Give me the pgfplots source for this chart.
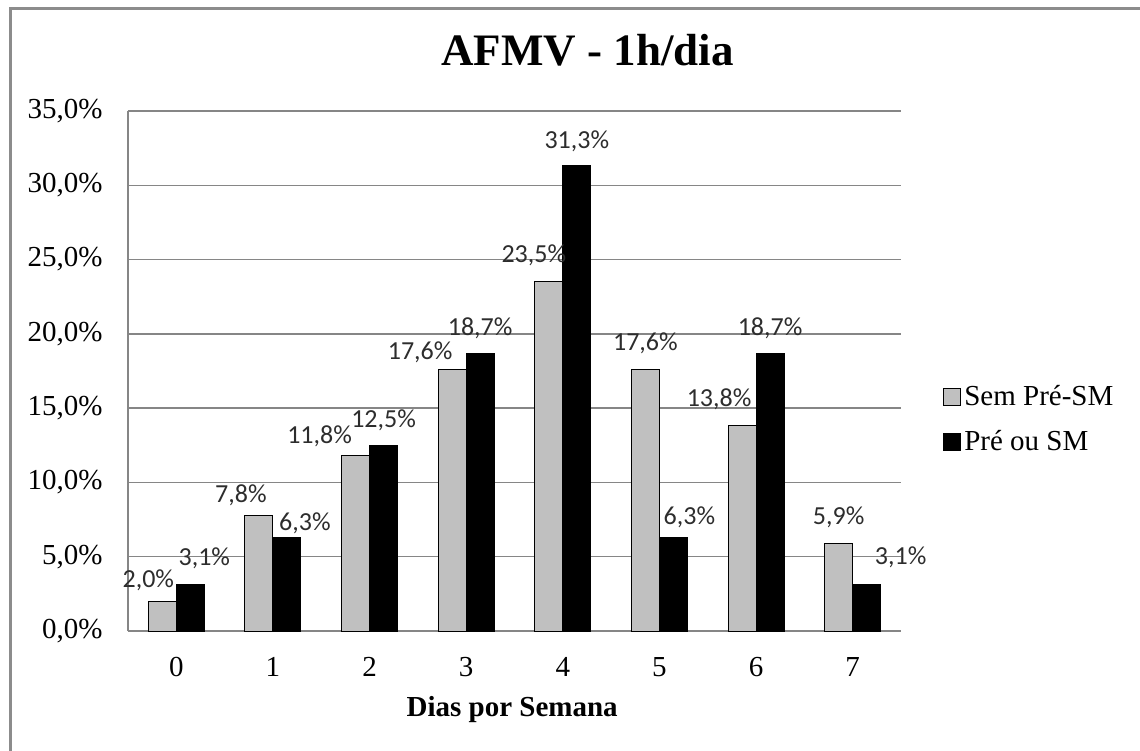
\documentclass[border=0pt]{standalone}
\usepackage{fontspec}
\setmainfont{Liberation Serif}
\newfontfamily\calib{Carlito}
\usepackage{pgfplots}
\pgfplotsset{compat=1.18}
\usepackage{pgfplotstable}

\pgfplotstableread{
x y dx dy
0 2.0 -14 21
1 7.8 -18 20
2 11.8 -36 19
3 17.6 -32 17
4 23.5 -15 27
5 17.6 0 26
6 13.8 -23 27
7 5.9 0 26
}\semtab

\pgfplotstableread{
x y dx dy
0 3.1 14 27
1 6.3 18 14
2 12.5 0 25
3 18.7 0 25
4 31.3 0 25
5 6.3 16 20
6 18.7 0 25
7 3.1 34 28
}\pretab

\definecolor{barGray}{RGB}{192,192,192}
\definecolor{gridGray}{RGB}{134,134,134}
\definecolor{frameGray}{RGB}{140,140,140}
\definecolor{lblGray}{RGB}{45,45,45}

\begin{document}
\begin{tikzpicture}
\useasboundingbox (0,0) rectangle (570bp,-375.5bp);
\draw[frameGray, line width=1.2bp] (5.25bp,-380bp) -- (5.25bp,-4.25bp) -- (575bp,-4.25bp);
\begin{axis}[
  at={(64bp,-315.5bp)}, anchor=south west,
  scale only axis, width=386.5bp, height=260bp,
  ymin=0, ymax=35, xmin=-0.5, xmax=7.5,
  ybar=0pt, bar width=14bp,
  axis lines=left,
  axis line style={draw=gridGray, line width=0.75bp, -},
  ymajorgrids, grid style={draw=gridGray, line width=0.75bp},
  major tick length=0pt,
  xtick={0,1,2,3,4,5,6,7},
  ytick={0,5,10,15,20,25,30,35},
  yticklabels={{0,0\%},{5,0\%},{10,0\%},{15,0\%},{20,0\%},{25,0\%},{30,0\%},{35,0\%}},
  tick label style={font=\fontsize{14.5bp}{17bp}\selectfont},
  xticklabel style={anchor=center, inner sep=0pt, yshift=-18bp},
  yticklabel style={anchor=east, inner sep=0pt, xshift=-12.5bp},
  /pgf/number format/assume math mode=true,
  title={\bfseries AFMV - 1h/dia},
  title style={at={(0.5944,1.064)}, anchor=base, inner sep=0pt, font=\fontsize{22.5bp}{26bp}\selectfont},
  xlabel={\bfseries Dias por Semana},
  xlabel style={at={(0.497,-0.1635)}, anchor=base, inner sep=0pt, font=\fontsize{14.5bp}{17bp}\selectfont},
  legend style={at={(1.0543,0.4067)}, anchor=west, draw=none, fill=none,
    font=\fontsize{14.5bp}{17bp}\selectfont, row sep=8bp, inner sep=0pt,
    nodes={inner sep=1.5bp}},
  legend cell align=left,
  legend image code/.code={\draw[#1, line width=0.5bp] (0bp,-4.25bp) rectangle (8.5bp,4.25bp);},
  nodes near coords={\calib\fontsize{13bp}{15bp}\selectfont\pgfmathprintnumber[fixed,fixed zerofill,precision=1,use comma]{\pgfplotspointmeta}\%},
  nodes near coords style={text=lblGray, anchor=center, inner sep=0pt,
    xshift={0.5bp*\dx}, yshift={0.5bp*\dy}},
  visualization depends on={\thisrow{dx} \as \dx},
  visualization depends on={\thisrow{dy} \as \dy},
]
\addplot[fill=barGray, draw=black, line width=0.5bp] table[x=x, y=y] {\semtab};
\addlegendentry{Sem Pré-SM}
\addplot[fill=black, draw=black, line width=0.5bp] table[x=x, y=y] {\pretab};
\addlegendentry{Pré ou SM}
\end{axis}
\end{tikzpicture}
\end{document}
